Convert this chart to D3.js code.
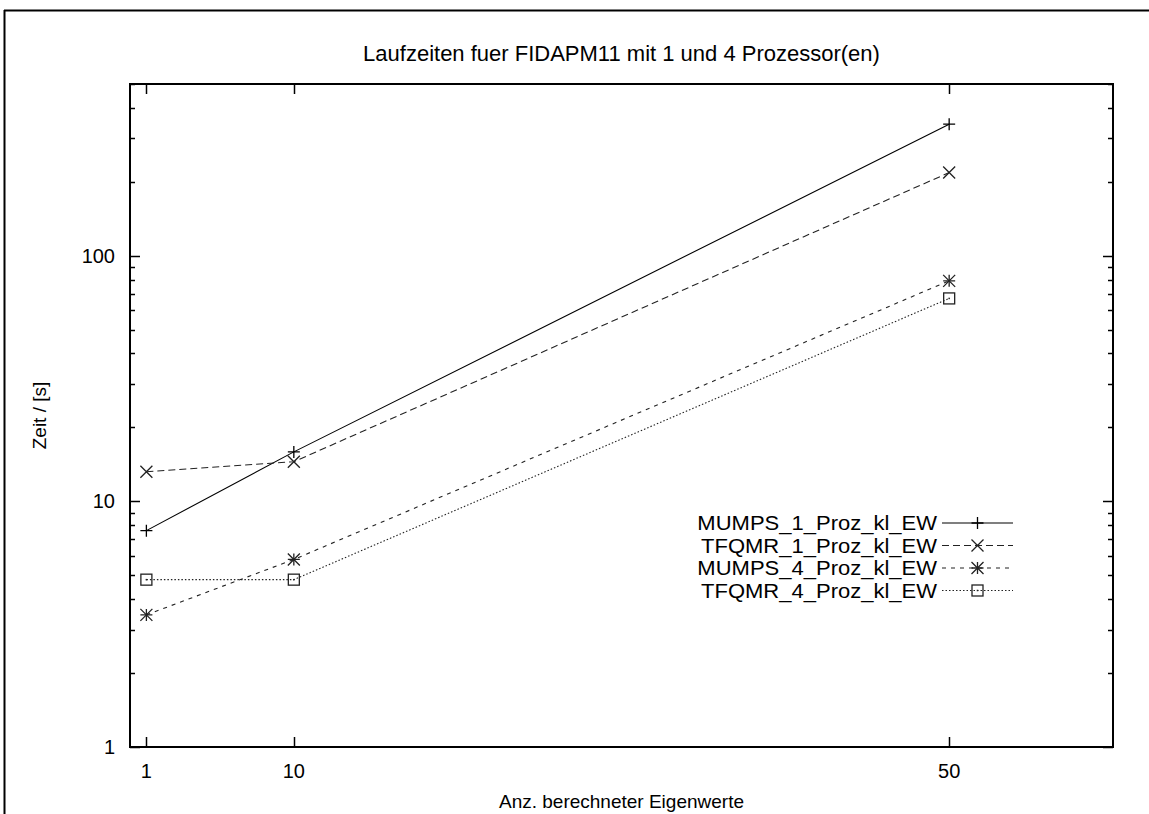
<!DOCTYPE html>
<html><head><meta charset="utf-8">
<script src="https://cdn.jsdelivr.net/npm/d3@7/dist/d3.min.js"></script>
<style>body{margin:0;background:#fff}svg{display:block}text{font-family:"Liberation Sans",Arial,sans-serif;fill:#000}</style>
</head><body>
<script>
// ---- data ----
const xValues = [1, 10, 50];
const seriesNames = ["MUMPS_1_Proz_kl_EW", "TFQMR_1_Proz_kl_EW", "MUMPS_4_Proz_kl_EW", "TFQMR_4_Proz_kl_EW"];
const mumps1 = [7.6, 15.9, 343];
const tfqmr1 = [13.2, 14.5, 218];
const mumps4 = [3.45, 5.8, 79];
const tfqmr4 = [4.8, 4.8, 67];
const xTickValues = [1, 10, 50];
const yMajorTicks = [1, 10, 100];
const title = "Laufzeiten fuer FIDAPM11 mit 1 und 4 Prozessor(en)";
const xTitle = "Anz. berechneter Eigenwerte";
const yTitle = "Zeit / [s]";

const W = 1149, H = 814;
const svg = d3.select("body").append("svg").attr("width", W).attr("height", H);

// outer page frame
svg.append("line").attr("x1", 4).attr("x2", W).attr("y1", 10.5).attr("y2", 10.5).attr("stroke", "#000").attr("stroke-width", 2);
svg.append("line").attr("x1", 4.5).attr("x2", 4.5).attr("y1", 10).attr("y2", H).attr("stroke", "#000").attr("stroke-width", 2);

const L = 130, R = 1113, T = 84, B = 747;
const x = d3.scaleLinear().domain([0, 60]).range([L, R]);
const y = d3.scaleLog().domain([1, 500]).range([B, T]);

// minor ticks
const minor = [];
[1, 10, 100].forEach(d => { for (let k = 2; k <= 9; k++) { const v = d * k; if (v <= 500) minor.push(v); } });

const g = svg.append("g");
function yTicks(vals, len) {
  vals.forEach(v => {
    const yy = Math.round(y(v)) + 0.5;
    g.append("line").attr("x1", L).attr("x2", L + len).attr("y1", yy).attr("y2", yy).attr("stroke", "#000").attr("stroke-width", 1.5);
    g.append("line").attr("x1", R).attr("x2", R - len).attr("y1", yy).attr("y2", yy).attr("stroke", "#000").attr("stroke-width", 1.5);
  });
}
yTicks(yMajorTicks, 10);
yTicks(minor, 5);
yMajorTicks.forEach(v => {
  g.append("text").attr("x", 115).attr("y", y(v) + 7).attr("text-anchor", "end").attr("font-size", 20).text(v);
});
xTickValues.forEach(v => {
  const xx = Math.round(x(v)) + 0.5;
  g.append("line").attr("x1", xx).attr("x2", xx).attr("y1", B).attr("y2", B - 10).attr("stroke", "#000").attr("stroke-width", 1.5);
  g.append("line").attr("x1", xx).attr("x2", xx).attr("y1", T).attr("y2", T + 10).attr("stroke", "#000").attr("stroke-width", 1.5);
  g.append("text").attr("x", x(v)).attr("y", 778).attr("text-anchor", "middle").attr("font-size", 20).text(v);
});

g.append("rect").attr("x", L).attr("y", T).attr("width", R - L).attr("height", B - T).attr("fill", "none").attr("stroke", "#000").attr("stroke-width", 2);

// titles
svg.append("text").attr("x", (L + R) / 2).attr("y", 61).attr("text-anchor", "middle").attr("font-size", 22).text(title);
svg.append("text").attr("x", (L + R) / 2).attr("y", 808).attr("text-anchor", "middle").attr("font-size", 19).text(xTitle);
svg.append("text").attr("transform", `translate(46,${(T + B) / 2}) rotate(-90)`).attr("text-anchor", "middle").attr("font-size", 19).text(yTitle);

const styles = [
  { data: mumps1, dash: null, color: "#000", marker: "plus" },
  { data: tfqmr1, dash: "7,4", color: "#222", marker: "cross" },
  { data: mumps4, dash: "4,5", color: "#222", marker: "star" },
  { data: tfqmr4, dash: "1.5,2", color: "#222", marker: "box" }
];
function drawMarker(sel, type, cx, cy, color) {
  const s = 6;
  const p = (d) => sel.append("path").attr("d", d).attr("stroke", color).attr("stroke-width", 1.3).attr("fill", "none");
  if (type === "plus" || type === "star") p(`M${cx - s},${cy}H${cx + s}M${cx},${cy - s}V${cy + s}`);
  if (type === "cross" || type === "star") p(`M${cx - s},${cy - s}L${cx + s},${cy + s}M${cx - s},${cy + s}L${cx + s},${cy - s}`);
  if (type === "box") {
    sel.append("rect").attr("x", cx - 5.5).attr("y", cy - 5.5).attr("width", 11).attr("height", 11).attr("fill", "none").attr("stroke", color).attr("stroke-width", 1.3);
    sel.append("rect").attr("x", cx - 0.75).attr("y", cy - 0.75).attr("width", 1.5).attr("height", 1.5).attr("fill", color);
  }
}
const line = d3.line().x(d => x(d[0])).y(d => y(d[1]));
styles.forEach((st, i) => {
  const pts = xValues.map((xv, j) => [xv, st.data[j]]);
  g.append("path").attr("d", line(pts)).attr("fill", "none").attr("stroke", st.color).attr("stroke-width", 1.1).attr("stroke-dasharray", st.dash);
  pts.forEach(p => drawMarker(g, st.marker, x(p[0]), y(p[1]), st.color));
  const ly = 530 + i * 22.5;
  const t = svg.append("text").attr("x", 937).attr("y", ly).attr("text-anchor", "end").attr("font-size", 22).text(seriesNames[i]);
  const len = t.node().getComputedTextLength();
  t.attr("font-size", 19.5).attr("textLength", len).attr("lengthAdjust", "spacingAndGlyphs");
  svg.append("line").attr("x1", 942).attr("x2", 1013).attr("y1", ly - 7).attr("y2", ly - 7).attr("stroke", st.color).attr("stroke-width", 1.1).attr("stroke-dasharray", st.dash);
  drawMarker(svg, st.marker, 977.5, ly - 7, st.color);
});
</script>
</body></html>
